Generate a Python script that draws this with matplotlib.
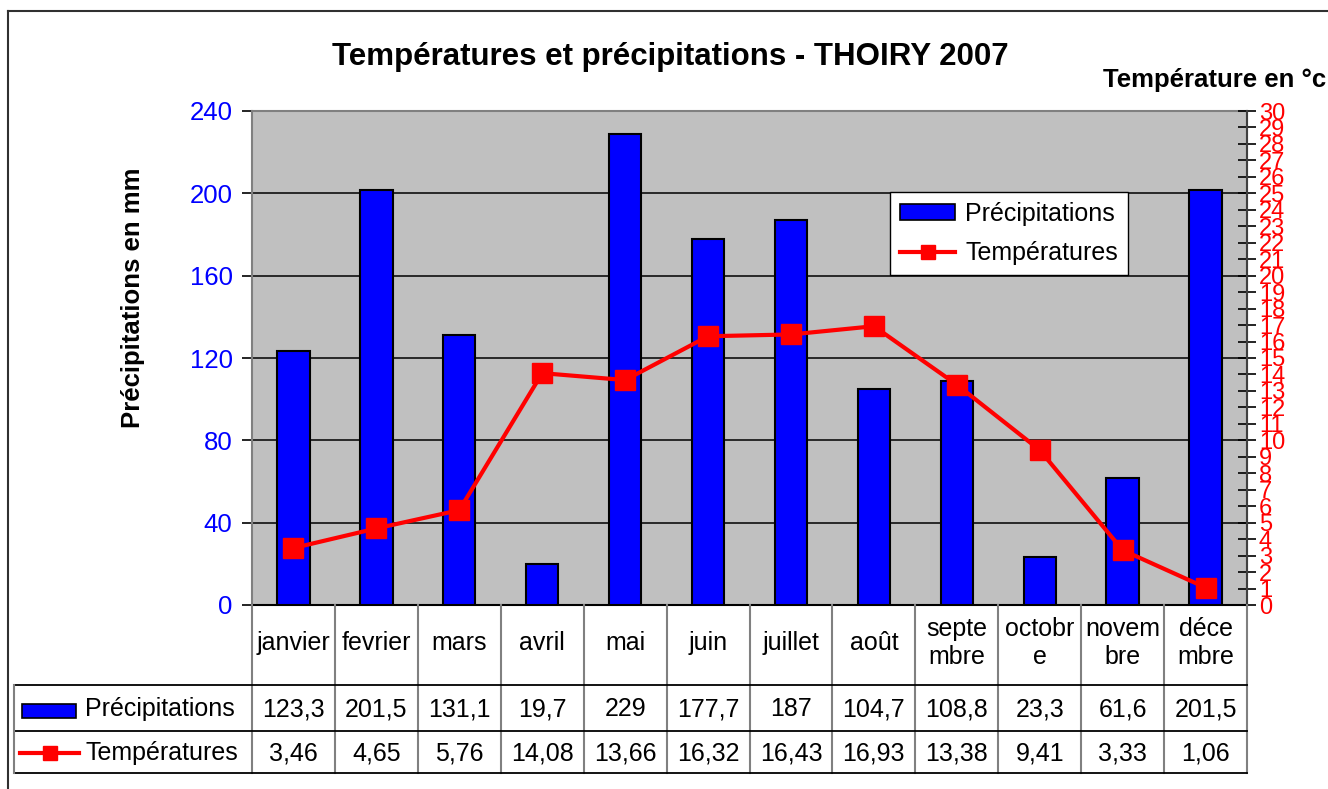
import numpy as np
import matplotlib
matplotlib.use("Agg")
import matplotlib.pyplot as plt
import matplotlib.transforms as mtransforms
from matplotlib.lines import Line2D
from matplotlib.patches import Patch, Rectangle

plt.rcParams["font.family"] = ["Liberation Sans", "DejaVu Sans"]

# ── Data ────────────────────────────────────────────────────────────────
months = ["janvier", "fevrier", "mars", "avril", "mai", "juin", "juillet",
          "août", "septembre", "octobre", "novembre", "décembre"]
month_cells = ["janvier", "fevrier", "mars", "avril", "mai", "juin", "juillet",
               "août", "septe\nmbre", "octobr\ne", "novem\nbre", "déce\nmbre"]
precip = [123.3, 201.5, 131.1, 19.7, 229, 177.7, 187, 104.7, 108.8, 23.3, 61.6, 201.5]
temps = [3.46, 4.65, 5.76, 14.08, 13.66, 16.32, 16.43, 16.93, 13.38, 9.41, 3.33, 1.06]
left_ticks = [0, 40, 80, 120, 160, 200, 240]
right_ticks = list(range(0, 31))

C_BAR = "#0000FF"
C_LINE = "#FF0000"
C_BG = "#C0C0C0"
C_CELL = "#808080"

W, H = 1328, 789
fig = plt.figure(figsize=(W / 100, H / 100), dpi=100)


def fx(px):
    return px / W


def fy(py):
    return 1 - py / H


# plot area: x 252..1247, y 111..605 (pixels)
ax = fig.add_axes([fx(252), fy(605), fx(1247) - fx(252), fy(111) - fy(605)])
ax.set_facecolor(C_BG)
x = np.arange(len(months))
ax.bar(x, precip, width=0.39, color=C_BAR, edgecolor="black", lw=1.5, zorder=3)
ax.set_xlim(-0.5, len(months) - 0.5)
ax.set_ylim(0, 240)
ax.set_yticks(left_ticks)
ax.set_yticklabels([str(v) for v in left_ticks], color=C_BAR, fontsize=18.5)
ax.tick_params(axis="y", direction="out", length=7, width=1.2, color="black", pad=7)
ax.set_xticks([])
ax.yaxis.grid(True, color="black", lw=1.1)
ax.set_axisbelow(True)
for s in ax.spines.values():
    s.set_color(C_CELL)
    s.set_linewidth(1.5)
ax.spines["bottom"].set_color("black")

ax2 = ax.twinx()
ax2.plot(x, temps, color=C_LINE, lw=3, marker="s", markersize=14,
         markerfacecolor=C_LINE, markeredgecolor=C_LINE, zorder=5)
ax2.set_ylim(0, 30)
ax2.set_yticks(right_ticks)
ax2.set_yticklabels([str(v) for v in right_ticks], color=C_LINE, fontsize=17)
ax2.tick_params(axis="y", direction="inout", length=13, width=1.2, color="black", pad=2)
for s in ax2.spines.values():
    s.set_visible(False)
ax2.spines["right"].set_visible(True)
ax2.spines["right"].set_color("#404040")
ax2.spines["right"].set_linewidth(1.5)

# legend
handles = [Patch(facecolor=C_BAR, edgecolor="black", lw=1.2, label="Précipitations"),
           Line2D([], [], color=C_LINE, lw=3, marker="s", markersize=10,
                  markeredgecolor=C_LINE, label="Températures")]
leg = ax2.legend(handles=handles, loc="upper left",
                 bbox_to_anchor=(fx(890), fy(192)), bbox_transform=fig.transFigure,
                 fontsize=18, frameon=True, fancybox=False, framealpha=1,
                 edgecolor="black", borderaxespad=0, handlelength=2.2,
                 handleheight=0.6, borderpad=0.4, labelspacing=0.6,
                 handletextpad=0.4)
leg.get_frame().set_linewidth(1.0)

# titles
fig.text(fx(670), fy(57), "Températures et précipitations - THOIRY 2007",
         ha="center", va="center", fontsize=22.5, fontweight="bold")
fig.text(fx(1326), fy(80), "Température en °c", ha="right", va="center",
         fontsize=18.5, fontweight="bold")
fig.text(fx(133), fy(298), "Précipitations en mm", ha="center", va="center",
         rotation=90, fontsize=18.5, fontweight="bold")

# ── Data table ──────────────────────────────────────────────────────────
tr = mtransforms.blended_transform_factory(ax.transData, fig.transFigure)
bounds = np.arange(len(months) + 1) - 0.5

for b in bounds:
    fig.add_artist(Line2D([b, b], [fy(605), fy(773)], transform=tr,
                          color=C_CELL, lw=1.5, clip_on=False))
for py in (685, 731, 773):
    fig.add_artist(Line2D([fx(14), fx(1247)], [fy(py), fy(py)],
                          color="black", lw=1.3))
fig.add_artist(Line2D([fx(14), fx(14)], [fy(685), fy(773)], color=C_CELL, lw=1.5))


def fmt(v):
    return f"{v:g}".replace(".", ",")


for i in range(len(months)):
    fig.text(x[i], fy(643), month_cells[i], transform=tr, ha="center",
             va="center", fontsize=18, linespacing=1.25)
    fig.text(x[i], fy(709), fmt(precip[i]), transform=tr, ha="center",
             va="center", fontsize=18)
    fig.text(x[i], fy(753), fmt(temps[i]), transform=tr, ha="center",
             va="center", fontsize=18)

# row headers with legend keys
fig.add_artist(Rectangle((fx(22), fy(718)), fx(54), fy(704) - fy(718),
                         facecolor=C_BAR, edgecolor="black", lw=1.2))
fig.text(fx(85), fy(709), "Précipitations", ha="left", va="center", fontsize=18)
fig.add_artist(Line2D([fx(20), fx(79)], [fy(753), fy(753)], color=C_LINE, lw=3))
fig.add_artist(Line2D([fx(50)], [fy(753)], color=C_LINE, marker="s",
                      markersize=10, markeredgecolor=C_LINE))
fig.text(fx(85), fy(753), "Températures", ha="left", va="center", fontsize=18)

# outer chart frame
fig.add_artist(Line2D([fx(8), fx(8)], [fy(11), 0], color="#303030", lw=1.5))
fig.add_artist(Line2D([fx(8), 1], [fy(11), fy(11)], color="#303030", lw=1.5))

fig.savefig("out.png", dpi=100)
